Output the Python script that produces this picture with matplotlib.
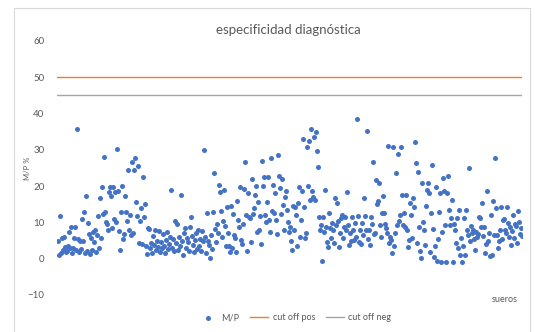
import matplotlib
matplotlib.use("Agg")
import matplotlib.pyplot as plt
from matplotlib.patches import Rectangle

plt.rcParams['font.family'] = ['Lato', 'DejaVu Sans']

# --- M/P % values per serum, read left to right in chunks ---
mp_a = [5.0, 1.1, 11.9, 1.6, 5.8, 2.5, 6.0, 3.2, 1.8, 2.2, 3.5, 7.3, 2.9, 8.8, 1.5, 3.0, 5.8, 8.8, 2.4, 35.8, 5.5, 1.9, 4.8,
        2.8, 11.0, 5.0, 13.0, 1.5, 17.4, 2.2, 9.9, 6.9, 1.2, 5.8, 2.5, 7.4, 4.7, 8.0, 1.8, 6.6, 11.8, 3.0, 16.8, 5.8, 19.8, 12.4, 28.0,
        13.0, 10.2, 9.6, 7.9, 18.5, 19.8, 17.4, 8.5, 19.8, 11.0, 18.5, 10.0, 30.3, 18.7, 7.5, 2.3, 13.0, 20.1, 5.5, 6.8, 17.4, 13.0, 10.5]
mp_b = [24.5, 8.0, 12.0, 6.5, 26.7, 7.0, 24.5, 27.8, 15.7, 11.8, 25.6, 4.2, 10.5, 14.0, 4.0, 22.6, 11.5, 15.2, 3.5, 1.3, 8.5, 8.2, 3.0,
        4.4, 1.6, 6.2, 3.8, 8.0, 2.5, 5.0, 3.2, 7.5, 1.8, 4.6, 2.9, 6.8, 3.5, 1.5, 5.2, 7.4, 2.8, 4.0, 6.0, 19.0, 3.0, 5.5, 2.0,
        10.5, 4.2, 9.6, 2.5, 6.0, 3.5, 17.6, 5.0, 1.1, 7.0, 8.5, 3.0, 5.8, 4.5, 2.2, 8.8, 11.6, 6.2, 3.8, 1.8, 5.2, 7.2, 2.8]
mp_c = [8.0, 3.5, 5.5, 2.0, 7.5, 4.8, 30.0, 6.0, 1.5, 12.7, 5.0, 3.8, 0.3, 6.5, 2.8, 13.0, 23.7, 8.2, 4.5, 9.5, 7.0, 20.4, 18.5,
        13.2, 6.0, 10.5, 19.0, 9.0, 3.5, 14.3, 7.2, 3.6, 1.9, 14.6, 3.0, 12.4, 6.6, 5.8, 1.9, 16.0, 10.7, 8.8, 19.8, 5.2, 4.0, 9.5,
        19.3, 26.7, 12.1, 2.2, 18.2, 11.6, 11.3, 4.7, 22.0, 12.4, 14.0, 17.6, 20.1, 7.4, 15.7, 8.0, 11.8, 4.1, 27.0, 20.1, 22.6, 12.1, 10.2, 15.7]
mp_d = [22.6, 10.7, 7.4, 27.8, 13.2, 20.4, 12.7, 18.2, 10.7, 6.9, 28.6, 22.9, 19.6, 12.4, 22.0, 14.9, 8.0, 17.1, 18.7, 13.5, 10.2, 7.4, 8.8,
        5.0, 2.5, 14.6, 8.0, 14.3, 12.1, 3.6, 15.4, 19.8, 6.1, 10.7, 18.7, 33.0, 14.3, 5.8, 7.2, 30.9, 20.1, 32.5, 16.3, 35.8, 18.7, 17.1, 33.6, 16.3, 35.0, 29.8, 25.3,
        11.6, 8.0, 9.4, -0.6, 11.6, 7.4, 19.0, 8.8, 4.7, 3.3, 12.7, 8.5, 5.8, 9.9, 8.0, 4.4, 16.8, 9.4, 15.4, 10.5, 3.3, 7.2, 11.3, 12.1, 5.8, 8.8, 11.6, 8.0, 18.5]
mp_e = [9.4, 3.9, 7.0, 5.0, 11.6, 8.0, 5.2, 9.9, 6.1, 38.6, 11.8, 4.5, 8.0, 4.1, 9.9, 6.5, 16.8, 11.8, 8.0, 35.3, 5.5, 7.8, 3.9, 11.6, 9.6, 26.7, 6.8, 7.2, 21.8,
        15.2, 16.0, 21.0, 9.4, 6.1, 12.7, 17.4, 12.7, 9.6, 8.5, 7.2, 31.1, 4.4, 6.0, 5.2, 1.6, 30.9, 3.6, 7.2, 23.7, 9.4, 28.9, 10.5, 12.1, 30.9, 17.6, 9.4,
        12.7, 8.8, 17.6, 8.0, 3.3, 5.2, 15.4, 12.1, 5.8, 16.8, 14.3, 32.2, 26.4, 4.4, 24.0, 8.8, 2.2, 0.3, 20.9, 10.2, 8.0, 3.9, 14.6, 19.0, 20.9, 18.2, 1.9, 12.7, 25.9, 8.3]
mp_f = [0.6, 3.6, 19.8, -0.6, 5.5, 12.9, 18.2, -0.8, 7.4, 22.3, 18.7, 9.4, -0.8, 18.2, 22.9, 13.5, 9.4, 11.3, 16.3, -0.8, 9.6, 8.0, 4.4, 11.3, 3.0, 13.5, 1.1, 5.8, -0.8, 3.6,
        11.3, 1.1, 13.5, 8.0, 6.5, 25.0, 4.8, 9.0, 7.2, 8.0, 5.5, 2.5, 7.4, 6.0, 6.8, 11.6, 11.3, 8.8, 15.4, 6.2, 8.8, 1.6, 4.0, 18.7, 5.0, 7.0, 0.8, 12.1, 1.1, 16.0, 6.5, 27.8,
        14.0, 6.5, 3.0, 5.0, 8.0, 14.3, 5.5, 10.7, 11.0, 7.8, 7.2, 14.3, 9.9, 6.0, 8.8, 3.9, 7.5, 12.1, 5.8, 9.5, 9.0, 4.4, 13.2, 10.2, 6.8, 8.5, 6.2]

mp = mp_a + mp_b + mp_c + mp_d + mp_e + mp_f
sueros = list(range(1, len(mp) + 1))

cut_off_pos = 50
cut_off_neg = 45

y_ticks = [-10, 0, 10, 20, 30, 40, 50, 60]

# --- Figure ---
fig = plt.figure(figsize=(5.35, 3.32), dpi=100)
ax = fig.add_axes([57 / 535, 1 - 295 / 332, 465 / 535, 254 / 332])

ax.scatter(sueros, mp, s=13, color='#4472C4', linewidths=0, label='M/P', zorder=3)
ax.axhline(cut_off_pos, color='#ED7D31', lw=1.0, label='cut off pos')
ax.axhline(cut_off_neg, color='#A5A5A5', lw=1.0, label='cut off neg')

ax.set_xlim(0.5, len(mp) + 0.5)
ax.set_ylim(-10, 60)
ax.set_yticks(y_ticks)
ax.set_xticks([])
ax.tick_params(axis='y', length=0, pad=9, labelsize=7, labelcolor='#595959')
for s in ax.spines.values():
    s.set_visible(False)

fig.text(288 / 535, 1 - 30 / 332, 'especificidad diagnóstica', ha='center', va='center',
         fontsize=9.5, color='#595959')
fig.text(28 / 535, 0.494, 'M/P %', rotation=90, ha='center', va='center', fontsize=5.5, color='#595959')
fig.text(505 / 535, 1 - 300 / 332, 'sueros', ha='center', va='center', fontsize=6.5, color='#595959')

fig.legend(loc='center', bbox_to_anchor=(295 / 535, 1 - 318 / 332), ncol=3, frameon=False,
           fontsize=6.5, labelcolor='#595959', handlelength=2, handletextpad=0.5, columnspacing=1.2,
           markerscale=1.0)

# chart area border
fig.patches.append(Rectangle((14 / 535, -0.1), 516 / 535, 1.076, transform=fig.transFigure,
                             fill=False, edgecolor='#D9D9D9', lw=0.8))

fig.savefig('out.png', dpi=100)
